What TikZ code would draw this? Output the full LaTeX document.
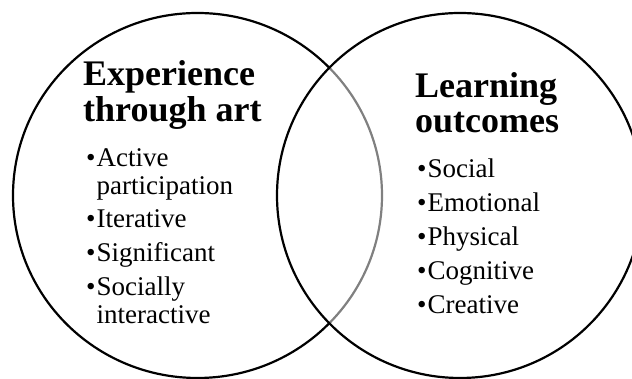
\documentclass[tikz,border=0pt]{standalone}
\usepackage{fontspec}
\setmainfont{Liberation Serif}

\tikzset{
    ring/.style={draw, line width=2.2pt},
    heading/.style={anchor=base west, inner sep=0pt, font=\bfseries\fontsize{36}{35.5}\selectfont},
    bulletlist/.style={anchor=base west, inner sep=0pt, font=\fontsize{27}{28}\selectfont}
}

\begin{document}
\begin{tikzpicture}[x=1pt, y=1pt]
    \useasboundingbox (0,0) rectangle (632,379);
    \coordinate (expcentre) at (197.5,183.5);
    \coordinate (learncentre) at (460,183.5);
    \begin{scope}
        \clip (0,0) rectangle (632,379);
        \path[ring] (expcentre) ellipse [x radius=184.5pt, y radius=182.5pt];
        \path[ring, fill=white, fill opacity=0.5] (learncentre) ellipse [x radius=183pt, y radius=182.5pt];
    \end{scope}

    \node[heading] (exphead) at (83,293.3) {
        \begin{tabular}[t]{@{}l@{}}
        Experience \\
        through art
        \end{tabular}
    };
    \node[bulletlist] (explist) at (86,212) {
        \begin{tabular}[t]{@{}l@{\hspace{1pt}}l@{}}
        • & Active \\
          & participation \\[5pt]
        • & Iterative \\[6pt]
        • & Significant \\[6pt]
        • & Socially \\
          & interactive
        \end{tabular}
    };

    \node[heading] (learnhead) at (415,281.7) {
        \begin{tabular}[t]{@{}l@{}}
        Learning \\
        outcomes
        \end{tabular}
    };
    \node[bulletlist] (learnlist) at (417,201) {
        \begin{tabular}[t]{@{}l@{\hspace{1pt}}l@{}}
        • & Social \\[6pt]
        • & Emotional \\[6pt]
        • & Physical \\[6pt]
        • & Cognitive \\[6pt]
        • & Creative
        \end{tabular}
    };
\end{tikzpicture}
\end{document}
